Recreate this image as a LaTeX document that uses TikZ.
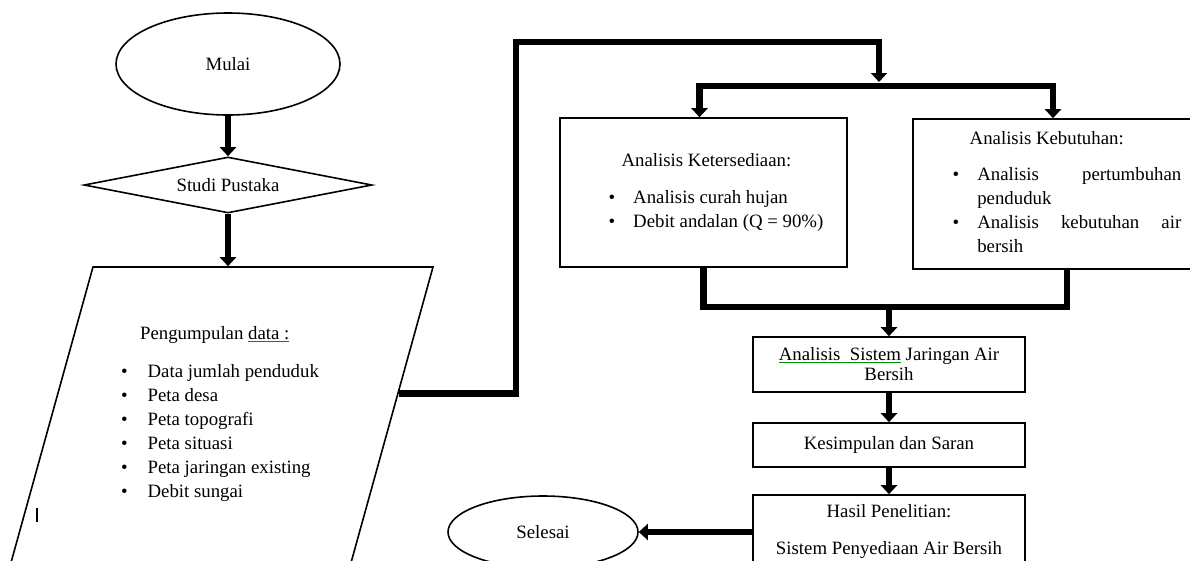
\documentclass[tikz,border=0pt]{standalone}
\usepackage{fontspec}
\setmainfont{Liberation Serif}
\usetikzlibrary{shapes.geometric,arrows.meta}

\newcommand{\butir}{\textbullet}
\newcommand{\eja}[1]{\textcolor{green!55!black}{\underline{\textcolor{black}{#1}}}}

\begin{document}
\begin{tikzpicture}[x=1pt,y=-1pt,font=\fontsize{18.8}{24}\selectfont]
  \tikzset{terminal/.style = {shape=ellipse,draw,line width=1.6pt,inner sep=0pt}}
  \tikzset{proses/.style = {shape=rectangle,draw,line width=1.6pt,inner sep=0pt,align=center}}
  \tikzset{keputusan/.style = {shape=diamond,draw,line width=1.6pt,inner sep=0pt,aspect=5.1}}
  \tikzset{masukan/.style = {shape=trapezium,draw,line width=1.6pt,inner sep=0pt,
    trapezium left angle=74.5,trapezium right angle=105.5,trapezium stretches body}}
  \tikzset{jalur/.style = {line width=6.5pt,line join=miter}}
  \tikzset{alur/.style = {jalur,-{Triangle[width=16pt,length=9pt]}}}

  \useasboundingbox (0,0) rectangle (1190,560);
  \clip (0,0) rectangle (1190,560);

	\node[terminal,minimum width=224pt,minimum height=102pt] (mulai) at (228,64) {Mulai};

	\node[keputusan,minimum width=288pt,minimum height=56pt] (studi) at (228,185) {Studi Pustaka};

	\node[masukan,minimum width=426pt] (data) at (220,422)
	  {\parbox[c][310pt][t]{240pt}{\centering\vspace*{56pt}
	   \begin{tabular}{@{}l@{\hspace{20pt}}l@{}}
	   \multicolumn{2}{@{}l@{}}{\hspace*{19pt}Pengumpulan \eja{data :}}\\[14pt]
	   \butir & Data jumlah penduduk\\
	   \butir & Peta desa\\
	   \butir & Peta topografi\\
	   \butir & Peta situasi\\
	   \butir & Peta jaringan existing\\
	   \butir & Debit sungai
	   \end{tabular}}};

	\node[proses,minimum width=287pt,minimum height=149pt] (sedia) at (703.5,192.5)
	  {\hspace*{25pt}\begin{tabular}{@{}l@{\hspace{18pt}}l@{}}
	   \multicolumn{2}{@{}l@{}}{\hspace*{13pt}Analisis Ketersediaan:}\\[13pt]
	   \butir & Analisis curah hujan\\
	   \butir & Debit andalan (Q = 90\%)
	   \end{tabular}};

	\node[proses,minimum width=308pt,minimum height=150pt] (butuh) at (1067,194)
	  {\hyphenpenalty=10000\exhyphenpenalty=10000
	   \begin{tabular}{@{}l@{\hspace{18pt}}p{204pt}@{}}
	   \multicolumn{2}{@{}l@{}}{\hspace*{17pt}Analisis Kebutuhan:}\\[12pt]
	   \butir & Analisis pertumbuhan penduduk\\
	   \butir & Analisis kebutuhan air bersih
	   \end{tabular}};

	\node[proses,minimum width=272pt,minimum height=55pt,font=\fontsize{18.8}{20}\selectfont] (sistem) at (889,364.5)
	  {\eja{Analisis\ \ Sistem} Jaringan Air\\Bersih};

	\node[proses,minimum width=272pt,minimum height=44pt] (simpul) at (889,445) {Kesimpulan dan Saran};

	\node[proses,minimum width=272pt,minimum height=73pt] (hasil) at (889,531.5)
	  {Hasil Penelitian:\\[13pt]Sistem Penyediaan Air Bersih};

	\node[terminal,minimum width=190pt,minimum height=72pt] (selesai) at (543,532) {Selesai};

	\coordinate (naik) at (516,42);
	\coordinate (cabang) at (879,86);
	\coordinate (gabung) at (889,307);

    \foreach \from/\to in {mulai/studi,studi/data,sistem/simpul,simpul/hasil}
    \draw[alur] (\from.south) -- (\from.south |- \to.north);

    \draw[alur] (data.9) -| (naik) -| ([yshift=4pt]cabang);
    \draw[alur] (cabang) -| ([xshift=-4pt]sedia.north);
    \draw[alur] (cabang) -| ([xshift=-14pt]butuh.north);
    \draw[jalur] (sedia.south) |- (gabung) -| (butuh.south);
    \draw[alur] (gabung) -- (sistem.north);
    \draw[alur] (hasil.west |- selesai.east) -- (selesai.east);

    \draw[line width=1.5pt] (37,508) -- (37,522);

\end{tikzpicture}
\end{document}
